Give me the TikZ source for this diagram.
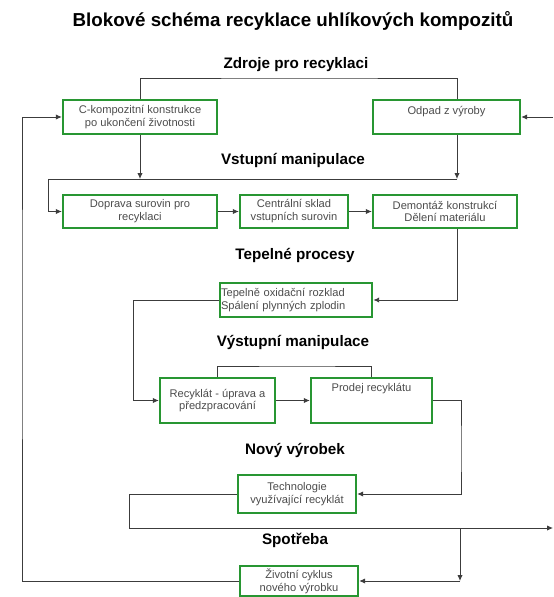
\documentclass[tikz,border=0pt]{standalone}
\usepackage{fontspec}
\setmainfont{Liberation Sans}
\usetikzlibrary{arrows.meta, calc}

\definecolor{boxgreen}{RGB}{40,150,50}
\definecolor{linegray}{RGB}{60,60,60}

\begin{document}
\begin{tikzpicture}[x=0.03cm, y=-0.03cm, thick,
    box/.style={draw=boxgreen, line width=2pt, fill=white, text=black!70, align=center,
      inner sep=1pt, font=\fontsize{9.5}{11}\selectfont},
    head/.style={font=\bfseries\fontsize{13}{15}\selectfont},
    link/.style={draw=linegray, -{Latex[length=5pt, width=4.5pt]}}]
    \useasboundingbox (0,0) rectangle (553,597);

    % headings
    \node[font=\bfseries\fontsize{16}{18}\selectfont] (title) at (293,21) {Blokové schéma recyklace uhlíkových kompozitů};
    \node[head] (zdroje) at (296,65) {Zdroje pro recyklaci};
    \node[head] (vstup) at (293,160) {Vstupní manipulace};
    \node[head] (tepelne) at (295,255) {Tepelné procesy};
    \node[head] (vystup) at (293,342) {Výstupní manipulace};
    \node[head] (novy) at (295,450) {Nový výrobek};
    \node[head] (spotreba) at (295,540) {Spotřeba};

    % boxes
    \node[box, minimum width=4.62cm, minimum height=1.02cm] (kompozit) at (140,117) {C-kompozitní konstrukce\\po ukončení životnosti};
    \node[box, minimum width=4.41cm, minimum height=1.02cm] (odpad) at (446.5,117) {Odpad z výroby\\\mbox{}};
    \node[box, minimum width=4.62cm, minimum height=0.99cm] (doprava) at (140,211.5) {Doprava surovin pro\\recyklaci};
    \node[box, minimum width=3.24cm, minimum height=0.99cm] (sklad) at (294,211.5) {Centrální sklad\\vstupních surovin};
    \node[box, minimum width=4.32cm, minimum height=0.99cm] (demontaz) at (445,211.5) {Demontáž konstrukcí\\Dělení materiálu};
    \node[box, text width=4.5cm, minimum height=1.02cm, align=left] (tepelny) at (296,300) {Tepelně oxidační rozklad\\Spálení plynných zplodin};
    \node[box, minimum width=3.45cm, minimum height=1.35cm] (uprava) at (217.5,400.5) {Recyklát - úprava a\\předzpracování};
    \node[box, minimum width=3.63cm, minimum height=1.35cm] (prodej) at (371.5,400.5) {Prodej recyklátu\\\mbox{}\\\mbox{}};
    \node[box, minimum width=3.54cm, minimum height=1.14cm] (technologie) at (297,494) {Technologie\\využívající recyklát};
    \node[box, minimum width=3.54cm, minimum height=0.9cm] (zivot) at (299,581) {Životní cyklus\\nového výrobku};

    \coordinate (top) at (300,78);
    \coordinate (colL) at (48,179);
    \coordinate (colR) at (457,179);
    \coordinate (inR) at (553,117);
    \coordinate (loopL) at (133,0);
    \coordinate (brk) at (300,366);
    \coordinate (saleR) at (461,450);
    \coordinate (techL) at (129,528);
    \coordinate (useR) at (553,528);
    \coordinate (useJ) at (460,528);
    \coordinate (lifeR) at (460,581);
    \coordinate (ret) at (22,300);

    % connectors
    \draw[linegray] (kompozit.north) |- (top) -| (odpad.north -| colR);
    \draw[link] (inR) -- (odpad.east);
    \draw[link] (kompozit.south) -- (kompozit.south |- colR);
    \draw[link] (odpad.south -| colR) -- (colR);
    \draw[linegray] (colR) -- (colL);
    \draw[link] (colL) |- (doprava.west);
    \draw[link] (doprava) -- (sklad);
    \draw[link] (sklad) -- (demontaz);
    \draw[link] (demontaz.south -| colR) |- (tepelny.east);
    \draw[link] (tepelny.west) -| (loopL |- uprava.west) -- (uprava.west);
    \draw[linegray] (uprava.north) |- (brk) -| (prodej.north);
    \draw[link] (uprava) -- (prodej);
    \draw[link] (prodej.east) -| (saleR) |- (technologie.east);
    \draw[link] (technologie.west) -| (techL) -- (useR);
    \draw[link] (useJ) -- (lifeR);
    \draw[link] (lifeR) -- (zivot.east);
    \draw[link] (zivot.west) -| (ret) |- (kompozit.west);
\end{tikzpicture}
\end{document}
